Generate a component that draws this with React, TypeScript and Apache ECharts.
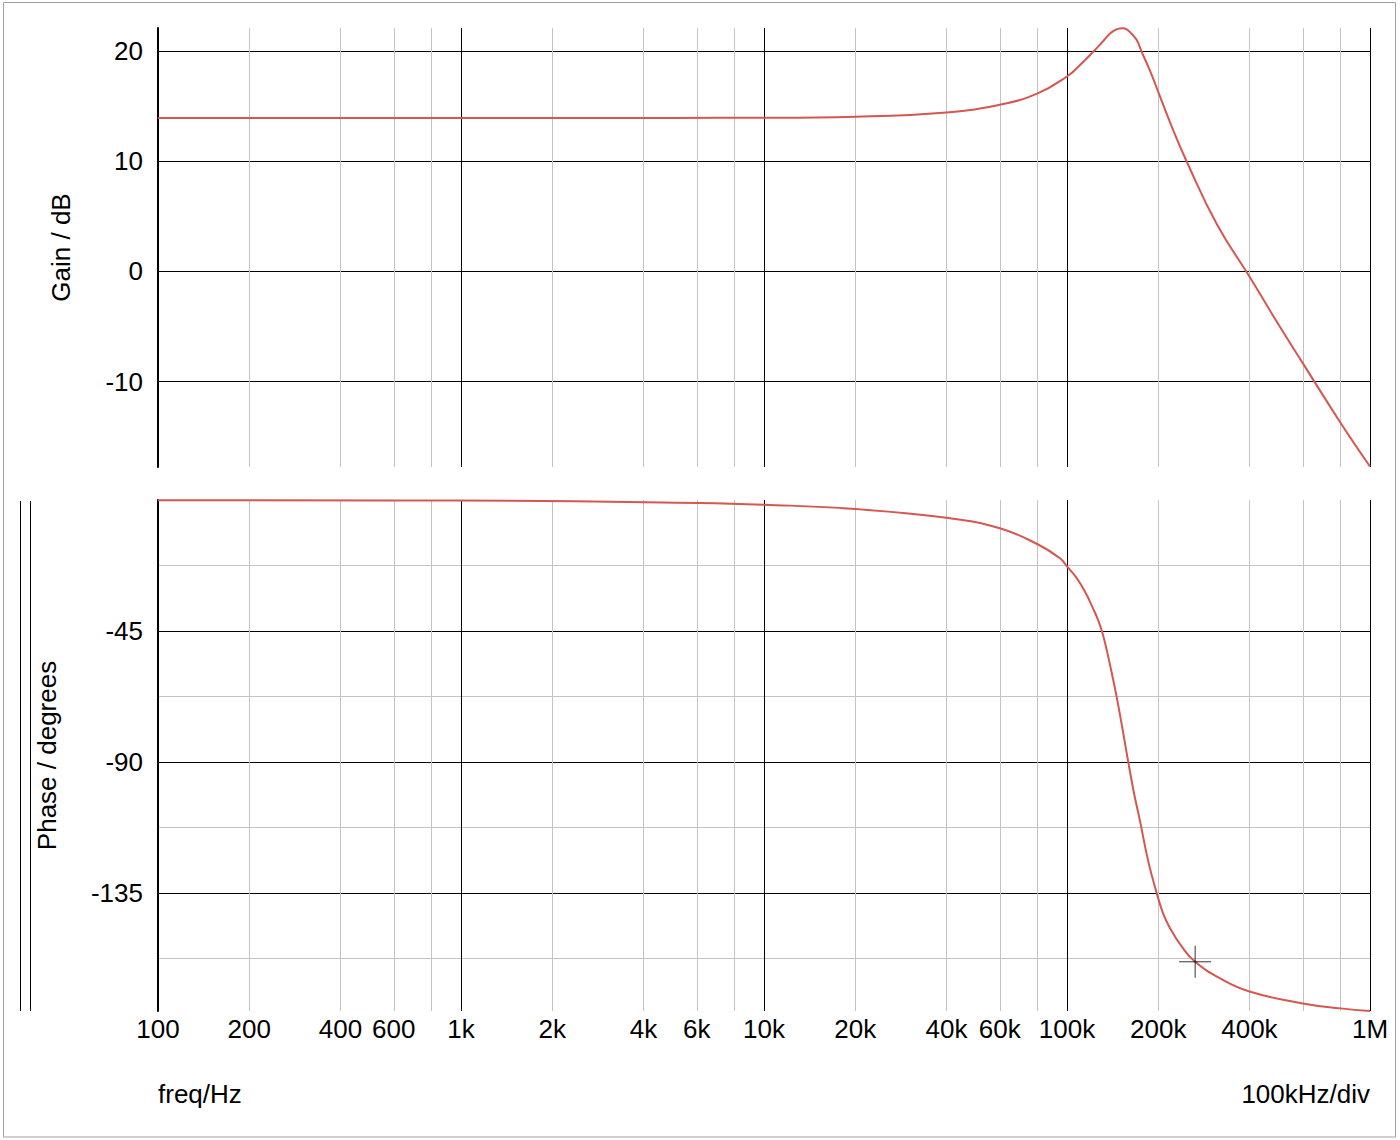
import React, { useEffect, useRef } from 'react';
import * as echarts from 'echarts';

const FONT = '"Liberation Sans", Arial, sans-serif';
const RED = '#d5574f';
const GRAY = '#c3c3c3';

// Gain curve (frequency in Hz, gain in dB)
const gainFreq = [100, 1000, 5000, 10000, 20000, 40000, 60000, 80000, 100000, 110000, 122000, 131000, 138700, 145000, 149500, 153000, 157400, 163000, 169900, 176400, 188000, 200000, 222000, 248500, 312000, 400000, 492000, 600000, 800000, 1000000];
const gainDb = [13.93, 13.93, 13.94, 13.95, 14.05, 14.44, 15.13, 16.16, 17.7, 18.7, 19.94, 20.85, 21.6, 21.95, 22.06, 22.07, 21.97, 21.6, 21.0, 19.94, 18.2, 16.31, 13.1, 9.96, 4.3, -0.46, -4.54, -8.32, -13.75, -17.7];

// Phase curve (frequency in Hz, phase in degrees)
const phaseFreq = [100, 1000, 6150, 10000, 20000, 40000, 60000, 80000, 94800, 100000, 107100, 114700, 122100, 126600, 130900, 135500, 140300, 145900, 152500, 159300, 166400, 174200, 185500, 197900, 207400, 218600, 239600, 264800, 320000, 400000, 600000, 800000, 1000000];
const phaseDeg = [-0.1, -0.2, -1.0, -1.6, -3.1, -6.1, -9.7, -15.2, -20.0, -22.8, -26.5, -31.5, -37.4, -41.2, -45.7, -51.9, -59.1, -67.7, -78.7, -90.0, -100.7, -110.3, -124.2, -135.1, -141.9, -147.0, -153.5, -158.6, -164.3, -168.8, -172.9, -174.6, -175.5];

// Cursor marker
const cursorFreq = [264800];
const cursorPhase = [-158.6];

// Axes
const xGridValues = [100, 200, 400, 600, 800, 1000, 2000, 4000, 6000, 8000, 10000, 20000, 40000, 60000, 80000, 100000, 200000, 400000, 600000, 800000, 1000000];
const xLabelValues = [100, 200, 400, 600, 1000, 2000, 4000, 6000, 10000, 20000, 40000, 60000, 100000, 200000, 400000, 1000000];
const xLabelTexts = ['100', '200', '400', '600', '1k', '2k', '4k', '6k', '10k', '20k', '40k', '60k', '100k', '200k', '400k', '1M'];
const gainTicks = [-10, 0, 10, 20];
const phaseGridValues = [-157.5, -135, -112.5, -90, -67.5, -45, -22.5];
const phaseLabelValues = [-135, -90, -45];

const gainRange = [-17.75, 22.1];
const phaseRange = [-175.5, 0];
const freqRange = [100, 1000000];

function freqLabel(v: number): string {
  let best = 0;
  let bestD = Infinity;
  for (let i = 0; i < xLabelValues.length; i++) {
    const d = Math.abs(Math.log10(v) - Math.log10(xLabelValues[i]));
    if (d < bestD) { bestD = d; best = i; }
  }
  return xLabelTexts[best];
}

export default function App() {
  const ref = useRef<HTMLDivElement>(null);

  useEffect(() => {
    if (!ref.current) return;
    const chart = echarts.init(ref.current, undefined, { renderer: 'svg' });

    const textStyle = { fontFamily: FONT, fontSize: 26, color: '#000' };

    const xAxisBase = (gridIndex: number, showLabels: boolean) => ({
      type: 'log',
      logBase: 10,
      gridIndex,
      min: freqRange[0],
      max: freqRange[1],
      axisLine: { show: false },
      axisTick: { show: false, customValues: xGridValues },
      axisLabel: {
        show: showLabels,
        customValues: xLabelValues,
        formatter: (v: number) => freqLabel(v),
        margin: 5,
        ...textStyle,
      },
      splitLine: {
        show: true,
        lineStyle: { color: ['#000', GRAY, GRAY, GRAY, GRAY], width: 1 },
      },
      minorTick: { show: false },
      minorSplitLine: { show: false },
    });

    const option: any = {
      animation: false,
      backgroundColor: '#fff',
      grid: [
        { left: 158, right: 30, top: 28, height: 439, containLabel: false },
        { left: 158, right: 30, top: 500, height: 511, containLabel: false },
      ],
      xAxis: [xAxisBase(0, false), xAxisBase(1, true)],
      yAxis: [
        {
          type: 'value',
          gridIndex: 0,
          min: gainRange[0],
          max: gainRange[1],
          name: 'Gain / dB',
          nameLocation: 'middle',
          nameGap: 84,
          nameTextStyle: { ...textStyle },
          axisLine: { show: true, onZero: false, lineStyle: { color: '#000', width: 2 } },
          axisTick: { show: false, customValues: gainTicks },
          axisLabel: { customValues: gainTicks, margin: 15, ...textStyle },
          splitLine: { show: true, lineStyle: { color: '#000', width: 1 } },
        },
        {
          type: 'value',
          gridIndex: 1,
          min: phaseRange[0],
          max: phaseRange[1],
          name: 'Phase / degrees',
          nameLocation: 'middle',
          nameGap: 98,
          nameTextStyle: { ...textStyle },
          axisLine: { show: true, onZero: false, lineStyle: { color: '#000', width: 2 } },
          axisTick: { show: false, customValues: phaseGridValues },
          axisLabel: { customValues: phaseLabelValues, margin: 15, ...textStyle },
          splitLine: { show: true, lineStyle: { color: [GRAY, '#000'], width: 1 } },
        },
      ],
      series: [
        {
          type: 'line',
          xAxisIndex: 0,
          yAxisIndex: 0,
          data: gainFreq.map((f, i) => [f, gainDb[i]]),
          showSymbol: false,
          smooth: 0.45,
          lineStyle: { color: RED, width: 2 },
          itemStyle: { color: RED },
          z: 5,
        },
        {
          type: 'line',
          xAxisIndex: 1,
          yAxisIndex: 1,
          data: phaseFreq.map((f, i) => [f, phaseDeg[i]]),
          showSymbol: false,
          smooth: 0.45,
          lineStyle: { color: RED, width: 2 },
          itemStyle: { color: RED },
          z: 5,
        },
        {
          type: 'scatter',
          xAxisIndex: 1,
          yAxisIndex: 1,
          data: cursorFreq.map((f, i) => [f, cursorPhase[i]]),
          symbol: 'path://M0,16L32,16M16,0L16,32',
          symbolSize: 32,
          itemStyle: { color: 'transparent', borderColor: '#000', borderWidth: 1 },
          z: 6,
        },
      ],
      graphic: [
        {
          type: 'rect',
          shape: { x: 3.5, y: 2.5, width: 1392, height: 1134.5 },
          style: { fill: 'none', stroke: '#a0a0a0', lineWidth: 1 },
          silent: true,
        },
        {
          type: 'line',
          shape: { x1: 20.5, y1: 501, x2: 20.5, y2: 1011 },
          style: { stroke: '#000', lineWidth: 1 },
          silent: true,
        },
        {
          type: 'line',
          shape: { x1: 30.5, y1: 501, x2: 30.5, y2: 1011 },
          style: { stroke: '#000', lineWidth: 1 },
          silent: true,
        },
        {
          type: 'text',
          left: 158,
          top: 1081,
          style: { text: 'freq/Hz', font: `26px ${FONT}`, fill: '#000' },
          silent: true,
        },
        {
          type: 'text',
          right: 30,
          top: 1081,
          style: { text: '100kHz/div', font: `26px ${FONT}`, fill: '#000' },
          silent: true,
        },
      ],
    };

    chart.setOption(option);
    return () => chart.dispose();
  }, []);

  return (
    <div
      ref={ref}
      style={{ position: 'absolute', left: 0, top: 0, width: 1400, height: 1140, background: '#fff' }}
    />
  );
}
